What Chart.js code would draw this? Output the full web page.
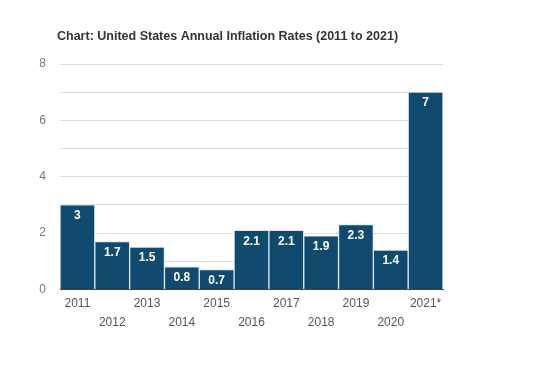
<!DOCTYPE html>
<html>
<head>
<meta charset="utf-8">
<script src="https://cdn.jsdelivr.net/npm/chart.js"></script>
<style>
  html, body { margin: 0; padding: 0; background: #fff; }
  #wrap { width: 540px; height: 380px; }
</style>
</head>
<body>
<div id="wrap"><canvas id="chart" width="540" height="380"></canvas></div>
<script>
const years = ['2011', '2012', '2013', '2014', '2015', '2016', '2017', '2018', '2019', '2020', '2021*'];
const rates = [3, 1.7, 1.5, 0.8, 0.7, 2.1, 2.1, 1.9, 2.3, 1.4, 7];
const chartTitle = 'Chart: United States Annual Inflation Rates (2011 to 2021)';

// title drawn by hand so it can sit left of the plot
const titlePlugin = {
  id: 'leftTitle',
  afterDraw(chart) {
    const ctx = chart.ctx;
    ctx.save();
    ctx.font = 'bold 12.5px "Liberation Sans", Arial, sans-serif';
    ctx.fillStyle = '#333';
    ctx.textBaseline = 'middle';
    ctx.fillText(chartTitle, 57, 37);
    ctx.restore();
  }
};

// white value labels inside the top of each bar
const valueLabels = {
  id: 'valueLabels',
  afterDatasetsDraw(chart) {
    const ctx = chart.ctx;
    const meta = chart.getDatasetMeta(0);
    ctx.save();
    ctx.font = 'bold 12px "Liberation Sans", Arial, sans-serif';
    ctx.fillStyle = '#fff';
    ctx.textAlign = 'center';
    ctx.textBaseline = 'middle';
    meta.data.forEach((bar, i) => {
      ctx.fillText(String(rates[i]), bar.x, bar.y + 11);
    });
    ctx.restore();
  }
};

new Chart(document.getElementById('chart'), {
  type: 'bar',
  data: {
    labels: years,
    datasets: [{
      data: rates,
      backgroundColor: '#104a6e',
      borderColor: 'rgba(220,230,238,0.9)',
      borderWidth: 1,
      categoryPercentage: 1,
      barPercentage: 1
    }]
  },
  options: {
    responsive: false,
    animation: false,
    layout: { padding: { top: 64, left: 36, right: 97, bottom: 51 } },
    plugins: { legend: { display: false }, tooltip: { enabled: false } },
    scales: {
      x: {
        grid: { display: false },
        border: { color: '#444' },
        ticks: {
          color: '#555',
          font: { family: '"Liberation Sans", Arial, sans-serif', size: 12, lineHeight: 1.65 },
          maxRotation: 0,
          autoSkip: false,
          padding: -4,
          callback: (v, i) => i % 2 ? ['', years[i]] : [years[i], '']
        }
      },
      y: {
        min: 0,
        max: 8,
        afterFit: s => { s.width = 24; },
        grid: { color: '#ddd', drawTicks: false },
        border: { display: false },
        ticks: {
          stepSize: 1,
          color: '#777',
          padding: 14,
          font: { family: '"Liberation Sans", Arial, sans-serif', size: 12 },
          callback: v => v % 2 === 0 ? v : ''
        }
      }
    }
  },
  plugins: [titlePlugin, valueLabels]
});
</script>
</body>
</html>
